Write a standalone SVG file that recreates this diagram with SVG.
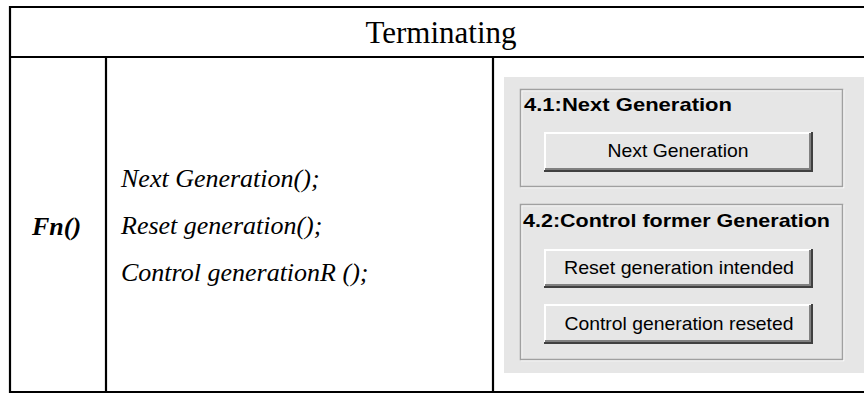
<svg xmlns="http://www.w3.org/2000/svg" width="864" height="394" viewBox="0 0 864 394">
<style>
.grid{stroke:#000;stroke-width:2.2;fill:none}
.hdr{font-family:"Liberation Serif","Times New Roman",serif;font-size:31px;fill:#000}
.code{font-family:"Liberation Serif","Times New Roman",serif;font-style:italic;font-size:26px;fill:#000}
.fn{font-family:"Liberation Serif","Times New Roman",serif;font-style:italic;font-weight:bold;font-size:26px;fill:#000}
.gtitle{font-family:"Liberation Sans",Arial,sans-serif;font-weight:bold;font-size:18.5px;fill:#000}
.btxt{font-family:"Liberation Sans",Arial,sans-serif;font-size:19px;fill:#000}
.etchD{fill:none;stroke:#a0a0a0;stroke-width:1.5}
.etchL{fill:none;stroke:#ffffff;stroke-width:1.5}
.btn{fill:#e6e6e6}
.hi{stroke:#ffffff;stroke-width:2;fill:none}
.sh{stroke:#808080;stroke-width:2;fill:none}
.sh2{stroke:#404040;stroke-width:2;fill:none}
</style>
<rect x="0" y="0" width="864" height="394" fill="#ffffff"/>
<g id="table">
<line class="grid" x1="10" y1="7" x2="864" y2="7"/>
<line class="grid" x1="10" y1="57" x2="864" y2="57"/>
<line class="grid" x1="10" y1="392" x2="864" y2="392"/>
<line class="grid" x1="10" y1="6" x2="10" y2="393"/>
<line class="grid" x1="106" y1="57" x2="106" y2="393"/>
<line class="grid" x1="493" y1="57" x2="493" y2="393"/>
</g>
<g id="header"><text class="hdr" x="441" y="43" text-anchor="middle">Terminating</text></g>
<g id="fn"><text class="fn" x="32" y="235">Fn()</text></g>
<g id="code">
<text class="code" x="121" y="187">Next Generation();</text>
<text class="code" x="121" y="234">Reset generation();</text>
<text class="code" x="121" y="281">Control generationR ();</text>
</g>
<g id="panel">
<rect x="504" y="77" width="360" height="296" fill="#e6e6e6"/>
<g id="group1">
<rect class="etchL" x="521.5" y="90.5" width="322" height="97"/>
<rect class="etchD" x="520.5" y="89.5" width="322" height="97"/>
<text class="gtitle" x="524" y="111" textLength="208" lengthAdjust="spacingAndGlyphs">4.1:Next Generation</text>
<g id="btn1">
<rect class="btn" x="544" y="132" width="268" height="39"/>
<polyline class="hi" points="545,170 545,133 811,133"/>
<polyline class="sh" points="545,169 810,169 810,133"/>
<polyline class="sh2" points="544,171 812,171 812,132"/>
<text class="btxt" x="678" y="157" text-anchor="middle" textLength="141" lengthAdjust="spacingAndGlyphs">Next Generation</text>
</g>
</g>
<g id="group2">
<rect class="etchL" x="521.5" y="205.5" width="322" height="155"/>
<rect class="etchD" x="520.5" y="204.5" width="322" height="155"/>
<text class="gtitle" x="523" y="227" textLength="307" lengthAdjust="spacingAndGlyphs">4.2:Control former Generation</text>
<g id="btn2">
<rect class="btn" x="544" y="249" width="268" height="38"/>
<polyline class="hi" points="545,286 545,250 811,250"/>
<polyline class="sh" points="545,285 810,285 810,250"/>
<polyline class="sh2" points="544,287 812,287 812,249"/>
<text class="btxt" x="679" y="274" text-anchor="middle" textLength="230" lengthAdjust="spacingAndGlyphs">Reset generation intended</text>
</g>
<g id="btn3">
<rect class="btn" x="544" y="304" width="268" height="39"/>
<polyline class="hi" points="545,342 545,305 811,305"/>
<polyline class="sh" points="545,341 810,341 810,305"/>
<polyline class="sh2" points="544,343 812,343 812,304"/>
<text class="btxt" x="679" y="330" text-anchor="middle" textLength="229" lengthAdjust="spacingAndGlyphs">Control generation reseted</text>
</g>
</g>
</g>
</svg>
